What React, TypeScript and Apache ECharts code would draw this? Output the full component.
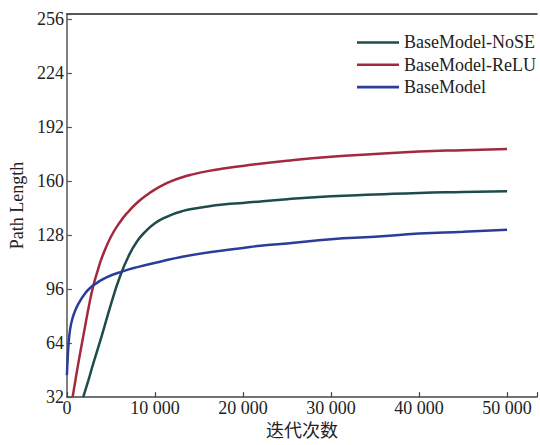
import React, { useEffect, useRef } from "react";
import * as echarts from "echarts";

const seriesNames = ["BaseModel-NoSE", "BaseModel-ReLU", "BaseModel"];
const colors = ["#1e4c4d", "#a3293f", "#2a3d9b"];

const noseData: [number, number][] = [
  [1850, 32], [2500, 43], [3000, 52], [4000, 69], [5000, 87], [6000, 103],
  [7000, 115.5], [8000, 124.5], [9000, 130.5], [10000, 135], [11000, 138],
  [12000, 140.3], [13000, 142], [14000, 143.3], [16000, 145], [18000, 146.2], [20000, 147],
  [25000, 149.3], [30000, 151], [35000, 152], [40000, 153], [45000, 153.5], [50000, 154],
];

const reluData: [number, number][] = [
  [650, 32], [1000, 43], [1500, 58], [2000, 72], [2500, 86], [3000, 98],
  [3500, 107], [4000, 115], [5000, 127], [6000, 135.5], [7000, 142], [8000, 147.3],
  [9000, 151.5], [10000, 155], [11000, 157.9], [12000, 160.2], [13000, 162.1],
  [14000, 163.6], [16000, 165.9], [18000, 167.6], [20000, 169], [25000, 172],
  [30000, 174.4], [35000, 176], [40000, 177.5], [45000, 178.3], [50000, 179],
];

const baseData: [number, number][] = [
  [0, 45], [100, 56], [200, 64], [360, 72], [600, 78], [1000, 84], [1500, 89],
  [2000, 93], [2600, 96.5], [3500, 100], [4500, 103], [6330, 106.5], [8000, 109],
  [10800, 112.5], [13000, 115], [16400, 118], [20000, 120.4], [22000, 121.7],
  [25000, 123], [30000, 125.6], [35000, 127], [40000, 128.9], [45000, 130], [50000, 131.2],
];

const xMin = 0;
const xMax = 53400;
const xInterval = 10000;
const yMin = 32;
const yMax = 259;
const yInterval = 32;

const FONT = '"Liberation Serif", "Noto Sans CJK SC", serif';
const LEGEND_ICON = "path://M0,0L42,0L42,2.6L0,2.6Z";

function fmtThousands(v: number): string {
  const s = String(Math.round(v));
  return s.replace(/\B(?=(\d{3})+(?!\d))/g, " ");
}

export default function App() {
  const ref = useRef<HTMLDivElement>(null);
  useEffect(() => {
    if (!ref.current) return;
    const chart = echarts.init(ref.current, undefined, { renderer: "svg" });
    const allData = [noseData, reluData, baseData];
    chart.setOption({
      animation: false,
      backgroundColor: "#ffffff",
      grid: { left: 63.5, right: 0, top: 14, bottom: 38.3, containLabel: false },
      legend: {
        orient: "vertical",
        left: 352,
        top: 28.5,
        itemWidth: 42,
        itemHeight: 18,
        itemGap: 4.3,
        symbolKeepAspect: true,
        data: seriesNames.map((n) => ({ name: n, icon: LEGEND_ICON })),
        textStyle: { fontFamily: FONT, fontSize: 18, color: "#222" },
      },
      xAxis: [
        {
          type: "value",
          min: xMin,
          max: xMax,
          interval: xInterval,
          name: "迭代次数",
          nameLocation: "middle",
          nameGap: 24,
          nameTextStyle: { fontFamily: FONT, fontSize: 18, color: "#222", verticalAlign: "top" },
          axisLine: { show: true, lineStyle: { color: "#444", width: 1.5 } },
          axisTick: { show: true, inside: true, length: 5, lineStyle: { color: "#444", width: 1.2 } },
          axisLabel: {
            margin: 2,
            fontFamily: FONT,
            fontSize: 18,
            color: "#222",
            formatter: (v: number) => (v % xInterval === 0 ? fmtThousands(v) : ""),
          },
          splitLine: { show: false },
        },
        {
          type: "value",
          position: "top",
          min: xMin,
          max: xMax,
          axisLine: { show: true, onZero: false, lineStyle: { color: "#222", width: 1.5 } },
          axisTick: { show: false },
          axisLabel: { show: false },
          splitLine: { show: false },
        },
      ],
      yAxis: {
        type: "value",
        min: yMin,
        max: yMax,
        interval: yInterval,
        name: "Path Length",
        nameLocation: "middle",
        nameGap: 33,
        nameTextStyle: { fontFamily: FONT, fontSize: 18, color: "#222" },
        axisLine: { show: true, lineStyle: { color: "#555", width: 1.5 } },
        axisTick: { show: true, inside: true, length: 5, lineStyle: { color: "#555", width: 1.2 } },
        axisLabel: {
          margin: 3,
          fontFamily: FONT,
          fontSize: 18,
          color: "#222",
          formatter: (v: number) => (v % yInterval === 0 ? String(v) : ""),
        },
        splitLine: { show: false },
      },
      series: seriesNames.map((name, i) => ({
        name,
        type: "line",
        xAxisIndex: 0,
        data: allData[i],
        smooth: 0.5,
        symbol: "none",
        clip: true,
        lineStyle: { color: colors[i], width: 2.5 },
        itemStyle: { color: colors[i] },
      })),
    });
    return () => chart.dispose();
  }, []);
  return (
    <div
      ref={ref}
      style={{ position: "absolute", left: 0, top: 0, width: 540, height: 445 }}
    />
  );
}
